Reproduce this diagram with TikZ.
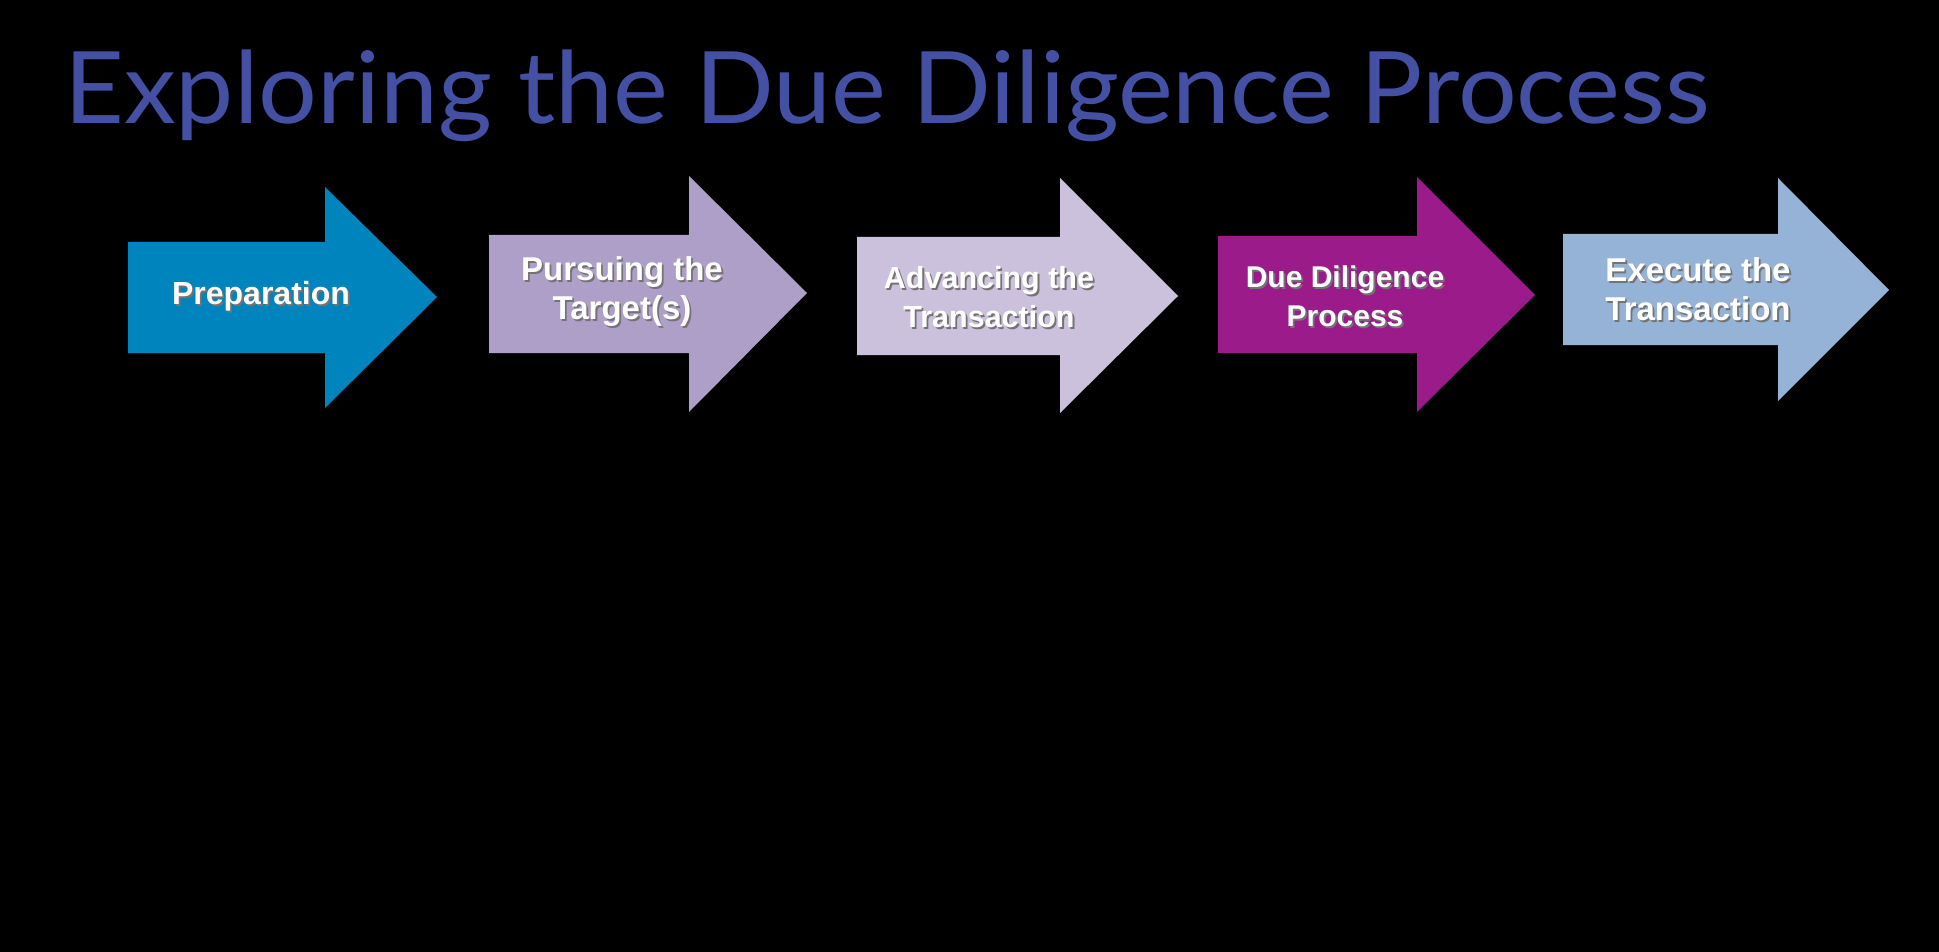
\documentclass[tikz,border=0pt]{standalone}
\usepackage{fontspec}
\setmainfont{Liberation Sans}
\newfontfamily\titlefont{Lato}

\definecolor{titleblue}{HTML}{4450A4}
\definecolor{prepblue}{HTML}{0084BE}
\definecolor{pursuelilac}{HTML}{AE9FC8}
\definecolor{advancelilac}{HTML}{CBC1DC}
\definecolor{duepurple}{HTML}{9B1B8B}
\definecolor{execblue}{HTML}{95B3D7}

% white label with a small drop shadow
\newcommand{\shadowlabel}[1]{\makebox[0pt][l]{\hspace{1.8pt}\raisebox{-2pt}{\color{black!55}\begin{tabular}{@{}c@{}}#1\end{tabular}}}\begin{tabular}{@{}c@{}}#1\end{tabular}}

\tikzset{
  steplabel/.style={text=white, inner sep=0pt, font=\fontsize{32}{39}\selectfont\bfseries}
}

\begin{document}
\begin{tikzpicture}[x=1pt,y=-1pt]
        \fill[black] (0,0) rectangle (1939,952);
        \useasboundingbox (0,0) rectangle (1939,952);
        \node (title) [anchor=base west, inner sep=0pt, text=titleblue, font=\titlefont\fontsize{100}{110}\selectfont] at (64,124) {\scalebox{1.038}[1]{Exploring the Due Diligence Process}};
        \fill[prepblue] (128,242) -- (325,242) -- (325,187) -- (437,297) -- (325,408) -- (325,353) -- (128,353) -- cycle;
        \fill[pursuelilac] (489,235) -- (689,235) -- (689,176) -- (807,293) -- (689,412) -- (689,353) -- (489,353) -- cycle;
        \fill[advancelilac] (857,237) -- (1060,237) -- (1060,178) -- (1178,296) -- (1060,413) -- (1060,355) -- (857,355) -- cycle;
        \fill[duepurple] (1218,236) -- (1417,236) -- (1417,177) -- (1535,295) -- (1417,412) -- (1417,353) -- (1218,353) -- cycle;
        \fill[execblue] (1563,234) -- (1778,234) -- (1778,178) -- (1889,290) -- (1778,401) -- (1778,345) -- (1563,345) -- cycle;
        \node (prep) [steplabel] at (261,297.5) {\shadowlabel{Preparation}};
        \node (pursue) [steplabel, font=\fontsize{33}{39}\selectfont\bfseries] at (622,293) {\shadowlabel{Pursuing the\\Target(s)}};
        \node (advance) [steplabel, font=\fontsize{30.5}{39}\selectfont\bfseries] at (989,301) {\shadowlabel{Advancing the\\Transaction}};
        \node (due) [steplabel, font=\fontsize{30}{39}\selectfont\bfseries] at (1345,300) {\shadowlabel{Due Diligence\\Process}};
        \node (exec) [steplabel, font=\fontsize{33}{39}\selectfont\bfseries] at (1698,294.5) {\shadowlabel{Execute the\\Transaction}};
\end{tikzpicture}
\end{document}
